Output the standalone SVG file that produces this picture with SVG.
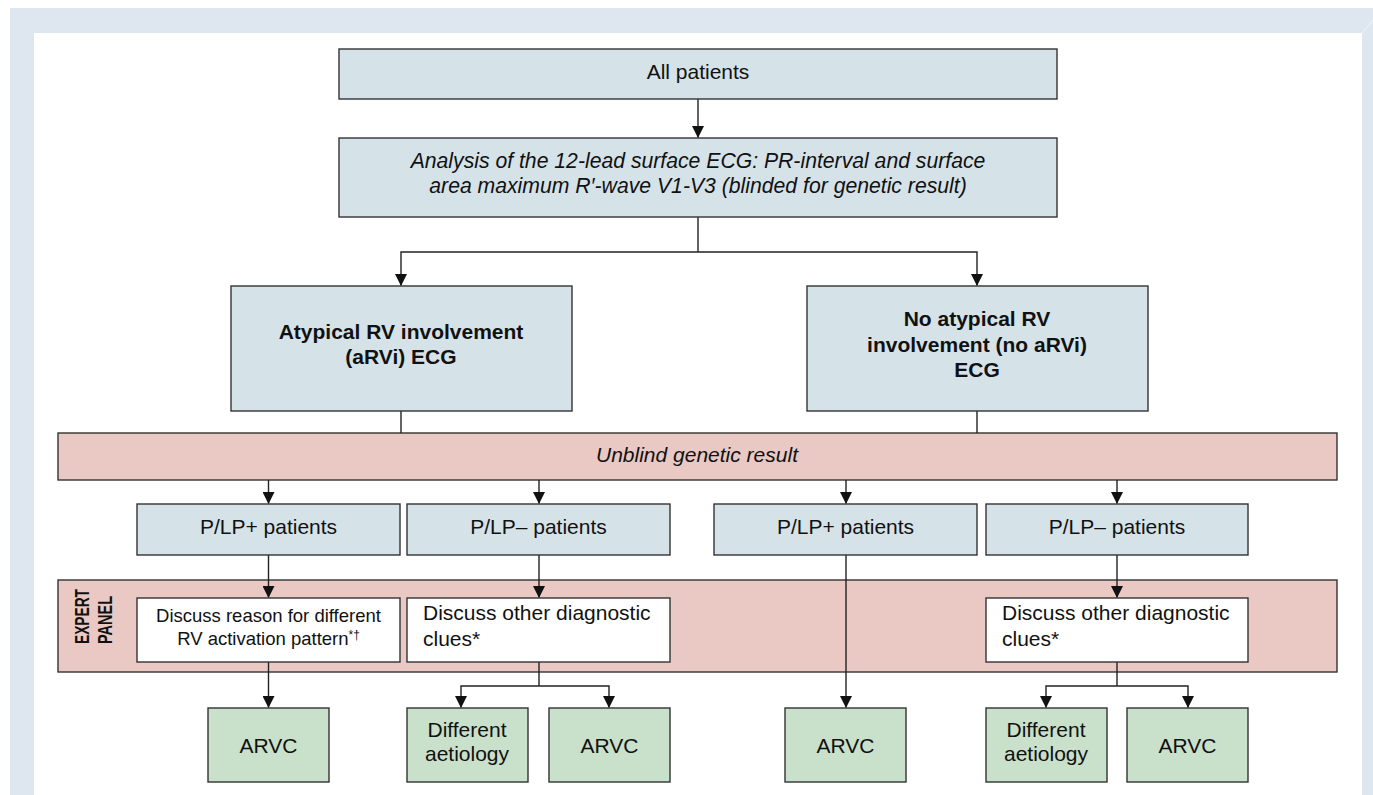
<svg xmlns="http://www.w3.org/2000/svg" width="1373" height="795" viewBox="0 0 1373 795">
  <defs>
    <marker id="arr" viewBox="0 0 12 12" refX="11.5" refY="6" markerWidth="12" markerHeight="12" markerUnits="userSpaceOnUse" orient="auto">
      <path d="M0,0 L12,6 L0,12 Z" fill="#111"/>
    </marker>
    <style>
      text { font-family: "Liberation Sans", Arial, sans-serif; fill: #111; font-size: 21px; }
      .blue { fill: #d5e3e9; stroke: #333; stroke-width: 1.4; }
      .pink { fill: #eac9c4; stroke: #333; stroke-width: 1.4; }
      .green { fill: #c9e0cb; stroke: #333; stroke-width: 1.4; }
      .white { fill: #ffffff; stroke: #333; stroke-width: 1.4; }
      .c { text-anchor: middle; }
      .b { font-weight: bold; }
      .i { font-style: italic; }
      .conn path { fill: none; stroke: #222; stroke-width: 1.4; }
    </style>
  </defs>

  <!-- frame -->
  <rect x="10" y="8" width="1373" height="800" fill="#dee7f0"/>
  <rect x="34" y="33" width="1328" height="770" fill="#ffffff"/>
  <line x1="1362" y1="33" x2="1373" y2="20" stroke="#eef3f8" stroke-width="1"/>

  <!-- bars -->
  <g id="unblind">
    <rect class="pink" x="58" y="433" width="1279" height="47"/>
    <text class="c i" x="697" y="462">Unblind genetic result</text>
  </g>
  <g id="expert-panel">
    <rect class="pink" x="58" y="580" width="1279" height="92"/>
    <text class="b" transform="translate(89,644) rotate(-90)" textLength="55" lengthAdjust="spacingAndGlyphs">EXPERT</text>
    <text class="b" transform="translate(112,644) rotate(-90)" textLength="48" lengthAdjust="spacingAndGlyphs">PANEL</text>
  </g>

  <!-- connectors -->
  <g id="connectors" class="conn">
    <path d="M698,99 V137.5" marker-end="url(#arr)"/>
    <path d="M698,217 V252"/>
    <path d="M698,252 H401 V285.5" marker-end="url(#arr)"/>
    <path d="M698,252 H977 V285.5" marker-end="url(#arr)"/>
    <path d="M401,411 V433"/>
    <path d="M977,411 V433"/>
    <path d="M268.5,480 V503.5" marker-end="url(#arr)"/>
    <path d="M539,480 V503.5" marker-end="url(#arr)"/>
    <path d="M846,480 V503.5" marker-end="url(#arr)"/>
    <path d="M1117,480 V503.5" marker-end="url(#arr)"/>
    <path d="M268.5,555 V597.5" marker-end="url(#arr)"/>
    <path d="M539,555 V597.5" marker-end="url(#arr)"/>
    <path d="M1117,555 V597.5" marker-end="url(#arr)"/>
    <path d="M846,555 V707.5" marker-end="url(#arr)"/>
    <path d="M268.5,662 V707.5" marker-end="url(#arr)"/>
    <path d="M539,662 V686"/>
    <path d="M539,686 H461 V707.5" marker-end="url(#arr)"/>
    <path d="M539,686 H609 V707.5" marker-end="url(#arr)"/>
    <path d="M1117,662 V686"/>
    <path d="M1117,686 H1046 V707.5" marker-end="url(#arr)"/>
    <path d="M1117,686 H1188 V707.5" marker-end="url(#arr)"/>
  </g>

  <!-- nodes -->
  <g id="all-patients">
    <rect class="blue" x="339" y="49" width="718" height="50"/>
    <text class="c" x="698" y="79">All patients</text>
  </g>
  <g id="ecg-analysis">
    <rect class="blue" x="339" y="138" width="718" height="79"/>
    <text class="c i" x="698" y="168" style="font-size:21.2px">Analysis of the 12-lead surface ECG: PR-interval and surface</text>
    <text class="c i" x="698" y="193" style="font-size:21.2px">area maximum R′-wave V1-V3 (blinded for genetic result)</text>
  </g>
  <g id="arvi">
    <rect class="blue" x="231" y="286" width="341" height="125"/>
    <text class="c b" x="401" y="339">Atypical RV involvement</text>
    <text class="c b" x="401" y="364">(aRVi) ECG</text>
  </g>
  <g id="no-arvi">
    <rect class="blue" x="807" y="286" width="341" height="125"/>
    <text class="c b" x="977" y="326">No atypical RV</text>
    <text class="c b" x="977" y="351.5">involvement (no aRVi)</text>
    <text class="c b" x="977" y="377">ECG</text>
  </g>
  <g id="plp-pos-1">
    <rect class="blue" x="137" y="504" width="263" height="51"/>
    <text class="c" x="268.5" y="534">P/LP+ patients</text>
  </g>
  <g id="plp-neg-1">
    <rect class="blue" x="407" y="504" width="263" height="51"/>
    <text class="c" x="538.5" y="534">P/LP– patients</text>
  </g>
  <g id="plp-pos-2">
    <rect class="blue" x="714" y="504" width="263" height="51"/>
    <text class="c" x="845.5" y="534">P/LP+ patients</text>
  </g>
  <g id="plp-neg-2">
    <rect class="blue" x="986" y="504" width="262" height="51"/>
    <text class="c" x="1117" y="534">P/LP– patients</text>
  </g>
  <g id="discuss-reason">
    <rect class="white" x="137" y="598" width="263" height="64"/>
    <text class="c" x="268.5" y="622" style="font-size:18.5px">Discuss reason for different</text>
    <text class="c" x="268.5" y="645" style="font-size:18.5px">RV activation pattern<tspan style="font-size:12px" dy="-6">*†</tspan></text>
  </g>
  <g id="discuss-clues-1">
    <rect class="white" x="407" y="598" width="263" height="64"/>
    <text x="423" y="620">Discuss other diagnostic</text>
    <text x="423" y="646">clues*</text>
  </g>
  <g id="discuss-clues-2">
    <rect class="white" x="986" y="598" width="262" height="64"/>
    <text x="1002" y="620">Discuss other diagnostic</text>
    <text x="1002" y="646">clues*</text>
  </g>
  <g id="arvc-1">
    <rect class="green" x="208" y="708" width="121" height="74"/>
    <text class="c" x="268.5" y="753">ARVC</text>
  </g>
  <g id="aetiology-1">
    <rect class="green" x="407" y="708" width="121" height="74"/>
    <text class="c" x="467" y="737">Different</text>
    <text class="c" x="467" y="761">aetiology</text>
  </g>
  <g id="arvc-2">
    <rect class="green" x="549" y="708" width="121" height="74"/>
    <text class="c" x="609.5" y="753">ARVC</text>
  </g>
  <g id="arvc-3">
    <rect class="green" x="785" y="708" width="121" height="74"/>
    <text class="c" x="845.5" y="753">ARVC</text>
  </g>
  <g id="aetiology-2">
    <rect class="green" x="986" y="708" width="121" height="74"/>
    <text class="c" x="1046" y="737">Different</text>
    <text class="c" x="1046" y="761">aetiology</text>
  </g>
  <g id="arvc-4">
    <rect class="green" x="1127" y="708" width="121" height="74"/>
    <text class="c" x="1187.5" y="753">ARVC</text>
  </g>
</svg>
